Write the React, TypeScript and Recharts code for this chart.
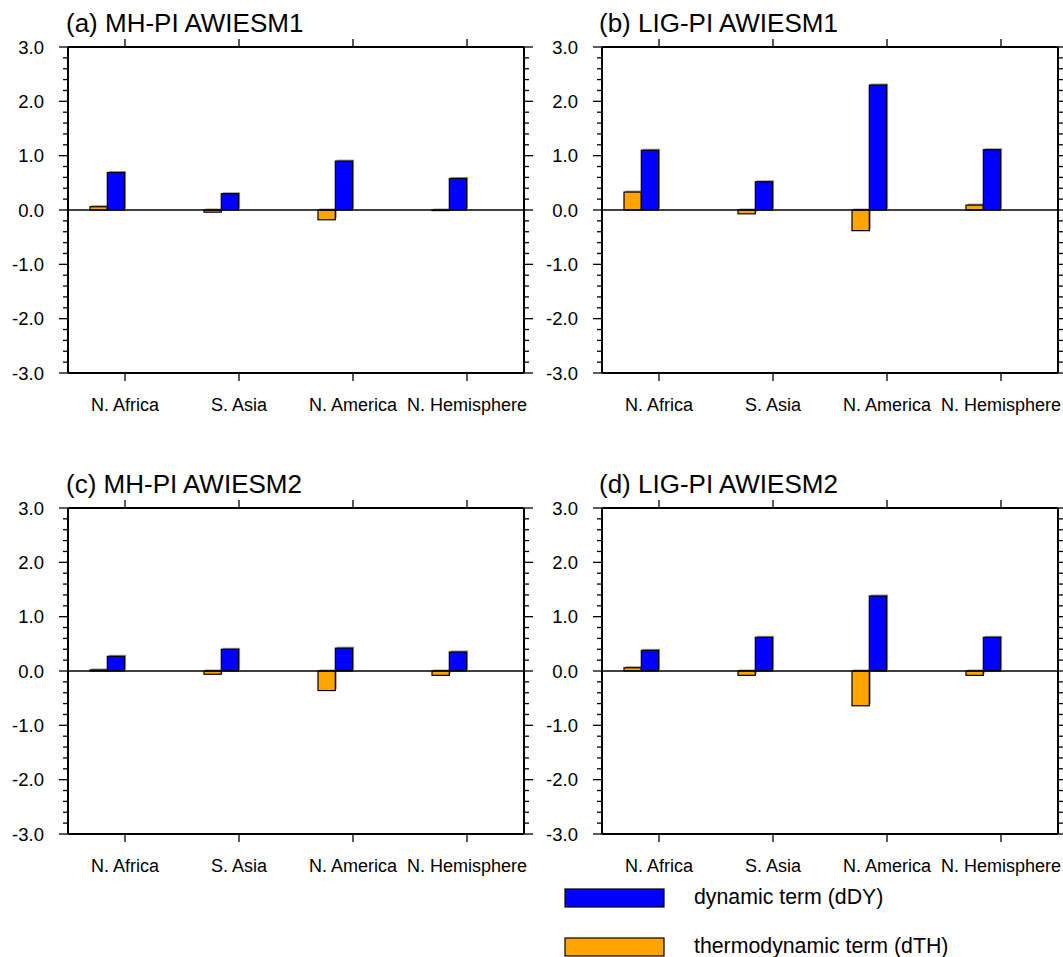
import React from "react";
import { BarChart, Bar, XAxis, YAxis, ReferenceLine } from "recharts";

const categories = ["N. Africa", "S. Asia", "N. America", "N. Hemisphere"];

const mh1DY = [0.69, 0.3, 0.9, 0.58];
const mh1TH = [0.06, -0.04, -0.18, -0.01];
const lig1DY = [1.1, 0.52, 2.3, 1.11];
const lig1TH = [0.33, -0.07, -0.38, 0.09];
const mh2DY = [0.27, 0.4, 0.42, 0.35];
const mh2TH = [0.02, -0.06, -0.36, -0.08];
const lig2DY = [0.38, 0.62, 1.38, 0.62];
const lig2TH = [0.06, -0.08, -0.64, -0.08];

const panelTitles = ["(a) MH-PI AWIESM1", "(b) LIG-PI AWIESM1", "(c) MH-PI AWIESM2", "(d) LIG-PI AWIESM2"];
const legendLabels = ["dynamic term (dDY)", "thermodynamic term (dTH)"];

const majorTicks = [-3, -2, -1, 0, 1, 2, 3];
const yTicks: number[] = [];
for (let k = -15; k <= 15; k++) yTicks.push(k / 5);

const FONT = "'Liberation Sans', Arial, Helvetica, sans-serif";
const BLUE = "#0000FF";
const ORANGE = "#FFA500";

const isMajor = (v: number) => majorTicks.some((m) => Math.abs(m - v) < 1e-6);

const build = (dy: number[], th: number[]) =>
  categories.map((c, i) => ({ name: c, dTH: th[i], dDY: dy[i] }));

const LeftTick = (props: any) => {
  const { x, y, payload } = props;
  const v = payload.value as number;
  const major = isMajor(v);
  return (
    <g>
      <line x1={x} x2={x - (major ? 9 : 5)} y1={y} y2={y} stroke="#000" strokeWidth={1.3} />
      {major && (
        <text x={x - 24} y={y} dy="0.36em" textAnchor="end" fontSize={18.5} fontFamily={FONT} fill="#000">
          {Math.round(v).toFixed(1)}
        </text>
      )}
    </g>
  );
};

const RightTick = (props: any) => {
  const { x, y, payload } = props;
  const major = isMajor(payload.value);
  return <line x1={x} x2={x + (major ? 9 : 5)} y1={y} y2={y} stroke="#000" strokeWidth={1.3} />;
};

const TopTick = (props: any) => {
  const { x, y } = props;
  return <line x1={x} x2={x} y1={y} y2={y - 8} stroke="#000" strokeWidth={1.3} />;
};

const BottomTick = (props: any) => {
  const { x, y, payload } = props;
  return (
    <g>
      <line x1={x} x2={x} y1={y} y2={y + 8} stroke="#000" strokeWidth={1.3} />
      <text x={x} y={y + 38} textAnchor="middle" fontSize={18} fontFamily={FONT} fill="#000">
        {payload.value}
      </text>
    </g>
  );
};

const ShadowBar = (props: any) => {
  const { x, y, width, height, fill } = props;
  if (width == null || height == null || isNaN(height)) return null;
  const ry = height < 0 ? y + height : y;
  const rh = Math.abs(height);
  return (
    <g>
      <rect x={x + 1.5} y={ry - 1.5} width={width} height={rh} fill="#9a9a9a" />
      <rect x={x} y={ry} width={width} height={rh} fill={fill} stroke="#000" strokeWidth={1.2} />
    </g>
  );
};

const Panel = ({ data, left, top }: { data: any[]; left: number; top: number }) => (
  <div style={{ position: "absolute", left, top }}>
    <BarChart
      width={540}
      height={430}
      data={data}
      margin={{ top: 46, right: 15, bottom: 27, left: 8 }}
      barGap={0}
      barSize={17.3}
    >
      <XAxis
        xAxisId="bottom"
        dataKey="name"
        orientation="bottom"
        height={30}
        tickSize={0}
        tickMargin={0}
        tick={<BottomTick />}
        tickLine={false}
        interval={0}
        axisLine={{ stroke: "#000", strokeWidth: 2 }}
      />
      <XAxis
        xAxisId="top"
        dataKey="name"
        orientation="top"
        height={1}
        tickSize={0}
        tickMargin={0}
        tick={<TopTick />}
        tickLine={false}
        interval={0}
        axisLine={{ stroke: "#000", strokeWidth: 2 }}
      />
      <YAxis
        yAxisId="left"
        orientation="left"
        width={60}
        domain={[-3, 3]}
        ticks={yTicks}
        interval={0}
        allowDataOverflow
        tickSize={0}
        tickMargin={0}
        tickLine={false}
        tick={<LeftTick />}
        axisLine={{ stroke: "#000", strokeWidth: 2 }}
      />
      <YAxis
        yAxisId="right"
        orientation="right"
        width={1}
        domain={[-3, 3]}
        ticks={yTicks}
        interval={0}
        allowDataOverflow
        tickSize={0}
        tickMargin={0}
        tickLine={false}
        tick={<RightTick />}
        axisLine={{ stroke: "#000", strokeWidth: 2 }}
      />
      <ReferenceLine xAxisId="bottom" yAxisId="left" y={0} stroke="#000" strokeWidth={1.3} />
      <Bar xAxisId="bottom" yAxisId="left" dataKey="dTH" fill={ORANGE} shape={<ShadowBar />} isAnimationActive={false} />
      <Bar xAxisId="bottom" yAxisId="left" dataKey="dDY" fill={BLUE} shape={<ShadowBar />} isAnimationActive={false} />
      <Bar xAxisId="bottom" yAxisId="left" dataKey="padA" fill="none" isAnimationActive={false} />
      <Bar xAxisId="bottom" yAxisId="left" dataKey="padB" fill="none" isAnimationActive={false} />
    </BarChart>
  </div>
);

export default function App() {
  const panels = [
    { data: build(mh1DY, mh1TH), left: 0, top: 0 },
    { data: build(lig1DY, lig1TH), left: 533.5, top: 0 },
    { data: build(mh2DY, mh2TH), left: 0, top: 461 },
    { data: build(lig2DY, lig2TH), left: 533.5, top: 461 },
  ];
  const titlePos = [
    { x: 66, y: 31.5 },
    { x: 599, y: 31.5 },
    { x: 66, y: 492.5 },
    { x: 599, y: 492.5 },
  ];
  return (
    <div
      style={{
        position: "absolute",
        left: 0,
        top: 0,
        width: 1063,
        height: 957,
        overflow: "hidden",
        background: "#fff",
        fontFamily: FONT,
      }}
    >
      {panels.map((p, i) => (
        <Panel key={i} data={p.data} left={p.left} top={p.top} />
      ))}
      <svg width={1063} height={957} style={{ position: "absolute", left: 0, top: 0, pointerEvents: "none" }}>
        {panelTitles.map((t, i) => (
          <text key={t} x={titlePos[i].x} y={titlePos[i].y} fontSize={26} fontFamily={FONT} fill="#000">
            {t}
          </text>
        ))}
        <rect x={565} y={889} width={99} height={18} fill={BLUE} stroke="#000" strokeWidth={1.2} />
        <text x={694} y={904} fontSize={21.3} fontFamily={FONT} fill="#000">
          {legendLabels[0]}
        </text>
        <rect x={565} y={938} width={99} height={18} fill={ORANGE} stroke="#000" strokeWidth={1.2} />
        <text x={694} y={953} fontSize={21.3} fontFamily={FONT} fill="#000">
          {legendLabels[1]}
        </text>
      </svg>
    </div>
  );
}
